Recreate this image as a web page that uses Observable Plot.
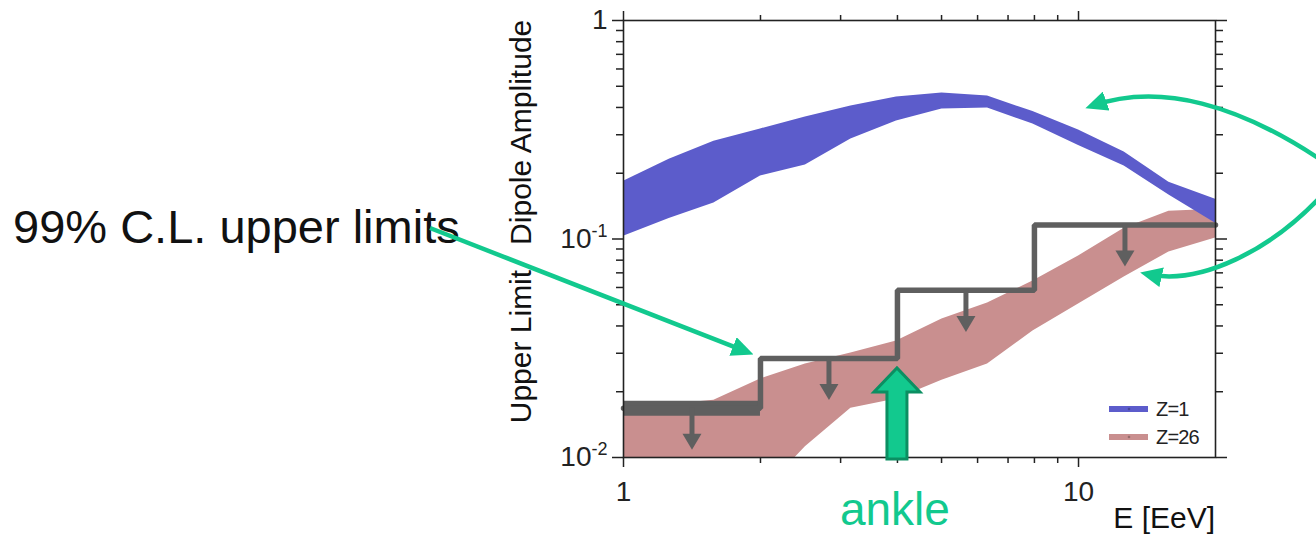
<!DOCTYPE html>
<html>
<head>
<meta charset="utf-8">
<script src="https://cdn.jsdelivr.net/npm/d3@7"></script>
<script src="https://cdn.jsdelivr.net/npm/@observablehq/plot@0.6"></script>
<style>
  html, body { margin: 0; padding: 0; background: #fff; }
  #chart { width: 1316px; height: 534px; overflow: hidden; }
  #chart svg { display: block; }
</style>
</head>
<body>
<div id="chart"></div>
<script>
// Energy grid (EeV) on which the expected dipole-amplitude bands are given
const energy = [1, 1.26, 1.58, 2, 2.51, 3.16, 3.98, 5.01, 6.31, 7.94, 10, 12.6, 15.8, 20];

// Z=1 (proton) band
const protonLow  = [0.103, 0.124, 0.146, 0.194, 0.218, 0.287, 0.347, 0.394, 0.398, 0.336, 0.268, 0.216, 0.159, 0.118];
const protonHigh = [0.184, 0.232, 0.280, 0.319, 0.362, 0.406, 0.447, 0.466, 0.451, 0.383, 0.315, 0.250, 0.182, 0.152];

// Z=26 (iron) band
const ironLow  = [0.004, 0.005, 0.006, 0.0068, 0.0112, 0.0168, 0.0185, 0.0226, 0.0268, 0.0379, 0.0504, 0.0670, 0.0872, 0.101];
const ironHigh = [0.0172, 0.0175, 0.0183, 0.0229, 0.0268, 0.0301, 0.0341, 0.0430, 0.0509, 0.0643, 0.0836, 0.112, 0.134, 0.137];

// 99% C.L. upper limits on the dipole amplitude, per energy bin
const binEdges = [1, 2, 4, 8, 20];
const upperLimits = [0.0168, 0.0284, 0.0582, 0.116];

// Axis ticks and labels
const xMajorTicks = [1, 10];
const xTickLabels = ["1", "10"];
const xMinorTicks = [2, 3, 4, 5, 6, 7, 8, 9];
const yMajorTicks = [1, 0.1, 0.01];
const yTickLabels = ["1", "10|-1", "10|-2"];
const yMinorTicks = [0.02, 0.03, 0.04, 0.05, 0.06, 0.07, 0.08, 0.09, 0.2, 0.3, 0.4, 0.5, 0.6, 0.7, 0.8, 0.9];

// Legend entries
const legendLabels = ["Z=1", "Z=26"];
const legendColors = ["#5c5ccb", "#c98f8f"];

const ankleEnergy = 4;
const green = "#12c98e";
const limitGray = "#5f5f5f";

// Step outline: each bin edge carries the limit of the bin that starts there
const stepPoints = binEdges.map((e, i) => ({E: e, A: upperLimits[Math.min(i, upperLimits.length - 1)]}));
// One downward arrow per bin, at the logarithmic bin centre
const bins = upperLimits.map((a, i) => ({
  lo: binEdges[i], hi: binEdges[i + 1], A: a,
  E: Math.sqrt(binEdges[i] * binEdges[i + 1])
}));
const arrowDrop = 1.38; // stem reaches this factor below the limit

// Filled downward-pointing arrow head, tip below the anchor point
const arrowHead = {
  draw(context) {
    context.moveTo(0, 11);
    context.lineTo(9.5, -5);
    context.lineTo(-9.5, -5);
    context.closePath();
  }
};

const axisFont = 28;

const plot = Plot.plot({
  width: 1316,
  height: 534,
  marginLeft: 623,
  marginRight: 101,
  marginTop: 20,
  marginBottom: 77,
  style: {
    fontFamily: "'Liberation Sans', Arial, Helvetica, sans-serif",
    background: "white",
    color: "#222"
  },
  x: {type: "log", domain: [1, 20]},
  y: {type: "log", domain: [0.01, 1]},
  marks: [
    Plot.areaY(energy, {x: energy, y1: ironLow, y2: ironHigh, fill: legendColors[1], clip: true}),
    Plot.areaY(energy, {x: energy, y1: protonLow, y2: protonHigh, fill: legendColors[0], clip: true}),
    Plot.ruleY([bins[0]], {x1: "lo", x2: "hi", y: "A", stroke: limitGray, strokeWidth: 15}),
    Plot.line(stepPoints, {x: "E", y: "A", curve: "step-after", stroke: limitGray, strokeWidth: 5.5, strokeLinejoin: "miter"}),
    Plot.ruleX(bins, {x: "E", y1: "A", y2: (d) => d.A / arrowDrop, stroke: limitGray, strokeWidth: 5}),
    Plot.dot(bins, {x: "E", y: (d) => d.A / arrowDrop, symbol: arrowHead, fill: limitGray, stroke: "none"}),

    Plot.frame({stroke: "#222", strokeWidth: 1.6}),

    Plot.axisX({ticks: xMajorTicks, anchor: "bottom", tickSize: 10, tickPadding: 14, fontSize: axisFont,
      tickFormat: (d) => xTickLabels[xMajorTicks.indexOf(d)], label: null, strokeWidth: 1.5}),
    Plot.axisX({ticks: xMinorTicks, anchor: "bottom", tickSize: 6, tickFormat: () => "", label: null, strokeWidth: 1.5}),
    Plot.axisX({ticks: xMajorTicks, anchor: "top", tickSize: 10, tickFormat: () => "", label: null, strokeWidth: 1.5}),
    Plot.axisX({ticks: xMinorTicks, anchor: "top", tickSize: 6, tickFormat: () => "", label: null, strokeWidth: 1.5}),

    Plot.axisY({ticks: yMajorTicks, anchor: "left", tickSize: 11, tickPadding: 5, fontSize: axisFont,
      tickFormat: (d) => yTickLabels[yMajorTicks.indexOf(d)], label: null, strokeWidth: 1.5}),
    Plot.axisY({ticks: yMinorTicks, anchor: "left", tickSize: 7, tickFormat: () => "", label: null, strokeWidth: 1.5}),
    Plot.axisY({ticks: yMajorTicks, anchor: "right", tickSize: 11, tickFormat: () => "", label: null, strokeWidth: 1.5}),
    Plot.axisY({ticks: yMinorTicks, anchor: "right", tickSize: 7, tickFormat: () => "", label: null, strokeWidth: 1.5})
  ]
});

document.getElementById("chart").appendChild(plot);

const svg = d3.select(plot);
const sx = plot.scale("x");
const sy = plot.scale("y");
const frameLeft = sx.apply(1), frameRight = sx.apply(20);
const frameTop = sy.apply(1), frameBottom = sy.apply(0.01);

// Powers of ten on the y axis: base plus raised exponent
svg.selectAll("text").each(function () {
  const t = this.textContent;
  if (t.includes("|")) {
    const [base, exp] = t.split("|");
    const el = d3.select(this).text("");
    el.append("tspan").text(base);
    el.append("tspan").attr("font-size", 18).attr("dy", "-0.62em").text(exp);
  }
});

// Axis titles
svg.append("text")
  .attr("transform", `translate(${frameLeft - 92},${(frameTop + frameBottom) / 2 - 17}) rotate(-90)`)
  .attr("text-anchor", "middle")
  .attr("font-size", 30)
  .attr("fill", "#111")
  .style("white-space", "pre")
  .text("Upper Limit   Dipole Amplitude");

svg.append("text")
  .attr("x", frameRight)
  .attr("y", frameBottom + 71)
  .attr("text-anchor", "end")
  .attr("font-size", 30)
  .attr("fill", "#111")
  .text("E [EeV]");

// Legend in the lower right corner of the frame
const legend = svg.append("g").attr("text-anchor", "start");
legendLabels.forEach((label, i) => {
  const ly = frameBottom - 48 + i * 28;
  legend.append("line")
    .attr("x1", frameRight - 106).attr("x2", frameRight - 67)
    .attr("y1", ly).attr("y2", ly)
    .attr("stroke", legendColors[i]).attr("stroke-width", 6);
  legend.append("circle")
    .attr("cx", frameRight - 86).attr("cy", ly).attr("r", 1.3)
    .attr("fill", d3.color(legendColors[i]).darker(0.8));
  legend.append("text")
    .attr("x", frameRight - 59).attr("y", ly + 7)
    .attr("text-anchor", "start")
    .attr("font-size", 20).attr("letter-spacing", -0.8)
    .attr("fill", "#222")
    .text(label);
});

// Annotation layer
const defs = svg.append("defs");
defs.append("marker")
  .attr("id", "greenHead")
  .attr("markerUnits", "userSpaceOnUse")
  .attr("viewBox", "0 -10 22 20")
  .attr("refX", 15).attr("refY", 0)
  .attr("markerWidth", 22).attr("markerHeight", 20)
  .attr("orient", "auto")
  .append("path")
  .attr("d", "M0,-10L22,0L0,10Z")
  .attr("fill", green);

const notes = svg.append("g").attr("text-anchor", "start");

notes.append("text")
  .attr("x", 13).attr("y", 243)
  .attr("text-anchor", "start")
  .attr("font-size", 47)
  .attr("fill", "#111")
  .text("99% C.L. upper limits");

// Pointer from the text to the step outline
const cornerX = sx.apply(binEdges[1]) - 13;
const cornerY = sy.apply(upperLimits[1]) - 6;
notes.append("path")
  .attr("d", `M430,228L${cornerX},${cornerY}`)
  .attr("stroke", green).attr("stroke-width", 4.5).attr("fill", "none")
  .attr("marker-end", "url(#greenHead)");

// Curved pointers to the two bands
notes.append("path")
  .attr("d", "M1324,162C1240,105 1160,82 1092,106")
  .attr("stroke", green).attr("stroke-width", 4.5).attr("fill", "none")
  .attr("marker-end", "url(#greenHead)");
notes.append("path")
  .attr("d", "M1324,193C1272,250 1200,286 1147,274")
  .attr("stroke", green).attr("stroke-width", 4.5).attr("fill", "none")
  .attr("marker-end", "url(#greenHead)");

// Block arrow marking the ankle
const ax = sx.apply(ankleEnergy);
const aTop = sy.apply(upperLimits[1]) + 10;
const aBottom = frameBottom + 2;
notes.append("path")
  .attr("d", `M${ax - 10},${aBottom}L${ax - 10},${aTop + 24}L${ax - 23},${aTop + 24}L${ax},${aTop}` +
             `L${ax + 23},${aTop + 24}L${ax + 10},${aTop + 24}L${ax + 10},${aBottom}Z`)
  .attr("fill", green).attr("stroke", "#0b8f62").attr("stroke-width", 3)
  .attr("stroke-linejoin", "miter");

notes.append("text")
  .attr("x", ax - 2).attr("y", 525)
  .attr("text-anchor", "middle")
  .attr("font-size", 46)
  .attr("fill", green)
  .text("ankle");
</script>
</body>
</html>
